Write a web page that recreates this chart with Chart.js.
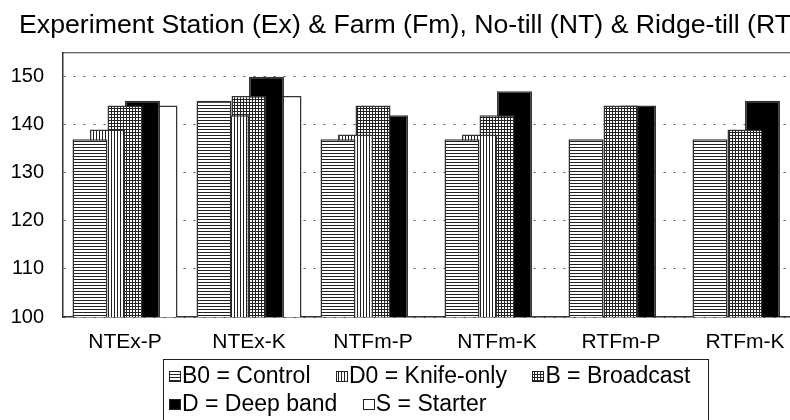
<!DOCTYPE html>
<html>
<head>
<meta charset="utf-8">
<script src="https://cdn.jsdelivr.net/npm/chart.js@4/dist/chart.umd.min.js"></script>
<style>
  html, body { margin: 0; padding: 0; background: #fff; overflow: hidden; }
  #wrap { position: relative; width: 820px; height: 420px; }
</style>
</head>
<body>
<div id="wrap"><canvas id="chart"></canvas></div>
<script>
const titleText = "Experiment Station (Ex) & Farm (Fm), No-till (NT) & Ridge-till (RT)";
const categories = ["NTEx-P", "NTEx-K", "NTFm-P", "NTFm-K", "RTFm-P", "RTFm-K"];
const seriesNames = ["B0 = Control", "D0 = Knife-only", "B = Broadcast", "D = Deep band", "S = Starter"];
const control   = [137, 145, 137, 137, 137, 137];
const knifeOnly = [139, 142, 138, 138, null, null];
const broadcast = [144, 146, 144, 142, 144, 139];
const deepBand  = [145, 150, 142, 147, 144, 145];
const starter   = [144, 146, null, null, null, null];
const yTicks = [100, 110, 120, 130, 140, 150];

const FONT = "'Liberation Sans', Arial, sans-serif";
const INK = "#222";

// little hatch tiles for the fills
const makePattern = (ctx, kind) => {
    const c = document.createElement("canvas");
    c.width = 3; c.height = 3;
    const g = c.getContext("2d");
    g.fillStyle = "#fff";
    g.fillRect(0, 0, 3, 3);
    g.fillStyle = INK;
    if (kind === "h" || kind === "g") g.fillRect(0, 0, 3, 1);
    if (kind === "v" || kind === "g") g.fillRect(0, 0, 1, 3);
    return ctx.createPattern(c, "repeat");
};
const cv = document.getElementById("chart");
const mainCtx = cv.getContext("2d");
const kinds = ["h", "v", "g", "#000", "#fff"];
const fills = kinds.map(k => k.length === 1 ? makePattern(mainCtx, k) : k);
const values = [control, knifeOnly, broadcast, deepBand, starter];

// legend swatch: a small box pushed to the right end of the slot,
// so it sits right next to its text like in the original
const SLOT = 22;
const SW = 12, SH = 11;
const swatch = (kind) => {
    const c = document.createElement("canvas");
    c.width = SLOT + 21; c.height = SH;
    const g = c.getContext("2d");
    const x0 = c.width - SW;
    g.fillStyle = kind.length === 1 ? makePattern(g, kind) : kind;
    g.fillRect(x0, 0, SW, SH);
    g.strokeStyle = "#222";
    g.lineWidth = 1;
    g.strokeRect(x0 + 0.5, 0.5, SW - 1, SH - 1);
    return c;
};
const swatches = kinds.map(swatch);

const legendPlace = {
    id: "legendPlace",
    afterLayout(chart) {
        const lg = chart.legend;
        lg.left = 143.5;
        lg.right = 708;
        lg.top += 6.2;
        const t = chart.titleBlock;
        if (t) { t.left = 19; }
    },
    beforeDraw(chart) {
        chart.ctx.imageSmoothingEnabled = false;
    },
    afterDraw(chart) {
        const ctx = chart.ctx;
        const a = chart.chartArea;
        ctx.save();
        ctx.strokeStyle = "#333";
        ctx.lineWidth = 1.2;
        ctx.beginPath();
        ctx.moveTo(a.left, a.top);
        ctx.lineTo(a.right, a.top);
        ctx.lineTo(a.right, a.bottom);
        ctx.stroke();
        ctx.lineWidth = 1;
        ctx.strokeStyle = "#222";
        ctx.strokeRect(163.5, 359.5, 545, 70);
        ctx.restore();
    }
};

new Chart(cv, {
    type: "bar",
    data: {
        labels: categories,
        datasets: seriesNames.map((name, i) => ({
            label: name,
            data: values[i],
            backgroundColor: fills[i],
            borderColor: "#333",
            borderWidth: 1.5,
            borderSkipped: false,
            categoryPercentage: 0.7056,
            barPercentage: 2
        }))
    },
    options: {
        responsive: true,
        maintainAspectRatio: false,
        animation: false,
        layout: { padding: { left: 0, right: 13, top: 0, bottom: 0 } },
        plugins: {
            tooltip: { enabled: false },
            title: {
                display: true,
                text: titleText,
                align: "start",
                color: "#000",
                font: { family: FONT, size: 26.7, weight: "normal" },
                padding: { top: 10, bottom: 10.7 }
            },
            legend: {
                position: "bottom",
                align: "start",
                labels: {
                    color: "#000",
                    font: { family: FONT, size: 23 },
                    usePointStyle: true,
                    pointStyleWidth: SLOT,
                    boxHeight: 10,
                    padding: 5,
                    generateLabels: chart => Chart.defaults.plugins.legend.labels.generateLabels(chart)
                        .map((it, i) => ({ ...it, pointStyle: swatches[i] }))
                }
            }
        },
        scales: {
            x: {
                grid: { display: false, drawTicks: false },
                border: { color: "#333", width: 1.5 },
                ticks: { color: "#000", font: { family: FONT, size: 21 }, padding: 13, maxRotation: 0 },
                afterFit: s => { s.height = 37; }
            },
            y: {
                min: 100,
                max: 155,
                grid: { color: "#555", lineWidth: 1, drawTicks: false },
                border: { color: "#333", width: 1.5, dash: [2, 8] },
                ticks: {
                    stepSize: 10,
                    includeBounds: false,
                    color: "#000",
                    padding: 19,
                    font: { family: FONT, size: 20 },
                    callback: v => yTicks.includes(v) ? String(v) : ""
                },
                afterFit: s => { s.width = 63; }
            }
        }
    },
    plugins: [legendPlace]
});
</script>
</body>
</html>
